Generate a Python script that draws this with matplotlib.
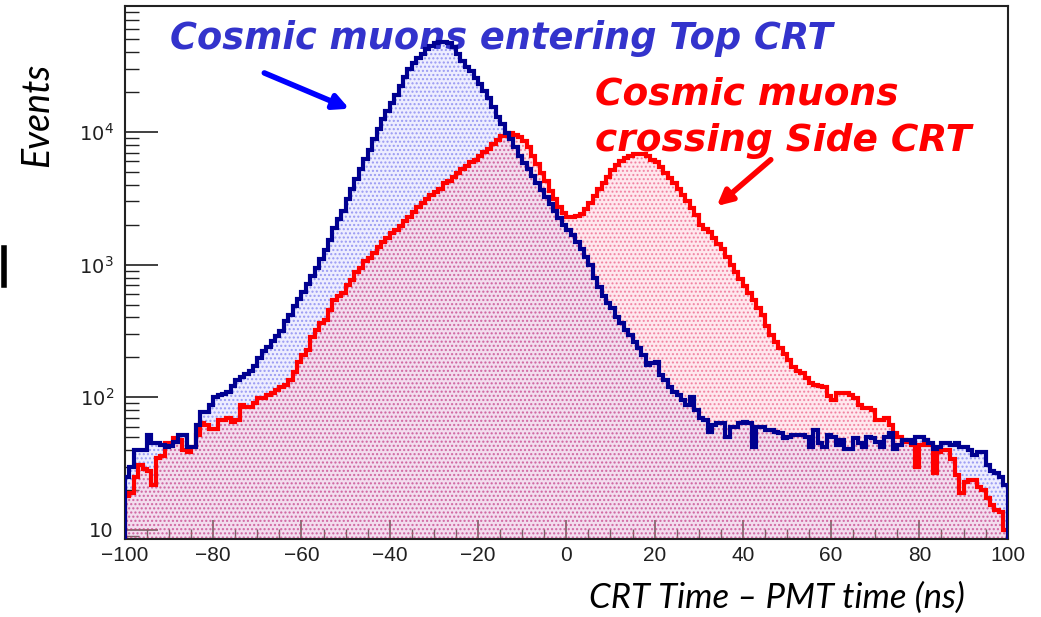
import numpy as np
import matplotlib.pyplot as plt
from matplotlib.ticker import FixedLocator, NullFormatter

plt.rcParams["mathtext.fontset"] = "custom"
plt.rcParams["mathtext.rm"] = "Liberation Sans"
plt.rcParams["hatch.linewidth"] = 1.0

# 1 ns bins from -100 to 100 ns
bin_edges = np.arange(-100, 101, 1)

# events per bin, muons entering the top CRT
top_crt = [
    25, 30, 40, 40, 40, 52, 45, 45, 44, 42,
    43, 46, 52, 52, 42, 42, 62, 78, 78, 88,
    100, 104, 106, 110, 122, 135, 142, 150, 158, 172,
    198, 224, 240, 267, 290, 318, 375, 420, 490, 550,
    620, 715, 827, 950, 1100, 1300, 1546, 1880, 2220, 2560,
    3100, 3740, 4450, 5300, 6210, 7270, 8800, 10460, 12450, 14300,
    16500, 18900, 22100, 25900, 29700, 32900, 36000, 39000, 42500, 44500,
    46500, 47500, 48000, 47000, 44000, 39000, 34500, 31000, 28800, 25600,
    23200, 20500, 17900, 15400, 13000, 11400, 9900, 8800, 7650, 6650,
    5870, 5230, 4660, 4130, 3670, 3220, 2860, 2530, 2240, 1980,
    1830, 1670, 1480, 1310, 1140, 1000, 800, 675, 580, 515,
    470, 402, 362, 323, 296, 262, 236, 208, 175, 181,
    185, 148, 135, 120, 110, 104, 95, 87, 100, 80,
    70, 67, 55, 62, 64, 64, 50, 60, 60, 64,
    65, 64, 42, 60, 60, 57, 57, 55, 54, 49,
    50, 52, 52, 52, 50, 42, 57, 45, 42, 52,
    50, 44, 48, 41, 41, 49, 45, 42, 50, 49,
    46, 42, 50, 54, 41, 44, 48, 48, 45, 50,
    50, 48, 45, 41, 42, 45, 45, 44, 45, 42,
    42, 40, 37, 39, 39, 31, 28, 27, 25, 22,
]

# events per bin, muons crossing the side CRT
side_crt = [
    18, 19, 25, 31, 29, 28, 22, 35, 36, 45,
    45, 49, 48, 40, 39, 42, 52, 64, 62, 58,
    58, 67, 67, 70, 65, 67, 87, 85, 85, 90,
    98, 98, 105, 107, 114, 120, 124, 135, 155, 185,
    208, 228, 285, 323, 362, 385, 458, 540, 580, 610,
    700, 760, 880, 950, 1060, 1120, 1230, 1360, 1470, 1600,
    1720, 1840, 1940, 2150, 2300, 2500, 2700, 2900, 3150, 3330,
    3560, 3750, 4100, 4300, 4550, 4870, 5220, 5500, 5900, 6200,
    6650, 7050, 7400, 8050, 8650, 9250, 9700, 9850, 9500, 9100,
    8500, 7650, 6650, 5700, 4950, 4240, 3620, 3100, 2740, 2460,
    2300, 2300, 2330, 2420, 2650, 2940, 3270, 3690, 4160, 4550,
    5130, 5600, 6000, 6330, 6550, 6780, 6780, 6780, 6550, 6200,
    5900, 5400, 4950, 4470, 4100, 3750, 3370, 3030, 2690, 2350,
    2000, 1870, 1770, 1600, 1440, 1310, 1150, 1000, 880, 780,
    690, 610, 545, 470, 415, 345, 296, 262, 236, 212,
    192, 170, 158, 152, 140, 128, 124, 122, 120, 102,
    95, 108, 108, 108, 104, 98, 87, 83, 83, 80,
    67, 67, 70, 62, 54, 50, 48, 46, 44, 30,
    44, 48, 44, 27, 39, 40, 40, 34, 26, 19,
    23, 24, 24, 21, 20, 17.5, 15.5, 14.2, 13.6, 10,
]

x_ticks = [-100, -80, -60, -40, -20, 0, 20, 40, 60, 80, 100]
y_ticks = [10, 100, 1000, 10000]
y_labels = ["10", r"$\mathregular{10^{2}}$", r"$\mathregular{10^{3}}$", r"$\mathregular{10^{4}}$"]

fig = plt.figure(figsize=(10.41, 6.17), dpi=100)
ax = fig.add_axes([0.120, 0.1264, 0.848, 0.8638])

# dotted fills, blue underneath so the overlap turns purple
ax.stairs(top_crt, bin_edges, baseline=1, fill=True,
          facecolor=(0.93, 0.93, 1.0), edgecolor=(0.60, 0.60, 0.95),
          hatch="....", linewidth=0, zorder=1)
ax.stairs(side_crt, bin_edges, baseline=1, fill=True,
          facecolor=(1.0, 0.78, 0.84, 0.40), edgecolor=(0.90, 0.20, 0.40, 0.50),
          hatch="....", linewidth=0, zorder=2)

ax.stairs(side_crt, bin_edges, baseline=1, color="#ff0000", linewidth=3, zorder=3)
ax.stairs(top_crt, bin_edges, baseline=1, color="#000090", linewidth=3, zorder=4)

ax.set_yscale("log")
ax.set_xlim(-100, 100)
ax.set_ylim(8.55, 89000)

ax.xaxis.set_major_locator(FixedLocator(x_ticks))
ax.xaxis.set_minor_locator(FixedLocator(np.arange(-95, 100, 5)))
ax.set_xticklabels([f"{t}".replace("-", "\u2212") for t in x_ticks],
                   fontfamily="Liberation Sans", fontsize=15)
ax.yaxis.set_major_locator(FixedLocator(y_ticks))
minor_y = [m * 10 ** e for e in range(0, 5) for m in range(2, 10)]
ax.yaxis.set_minor_locator(FixedLocator(minor_y))
ax.yaxis.set_minor_formatter(NullFormatter())
ax.set_yticklabels(y_labels, fontsize=14)

ax.tick_params(axis="both", which="both", direction="in", colors="#202020",
               top=False, right=False)
ax.tick_params(axis="x", which="major", length=14, width=1.2, pad=5)
ax.tick_params(axis="x", which="minor", length=7, width=1.0)
ax.tick_params(axis="y", which="major", length=24, width=1.2, pad=8)
ax.tick_params(axis="y", which="minor", length=10, width=1.0)
for side in ax.spines.values():
    side.set_linewidth(1.5)
    side.set_color("#222222")

fig.text(0.036, 0.814, "Events", rotation=90, ha="center", va="center",
         fontsize=27, style="italic", family=["Lato", "DejaVu Sans"])
fig.text(0.746, 0.031, "CRT Time \u2013 PMT time (ns)", ha="center", va="center",
         fontsize=25, style="italic", family=["Lato", "DejaVu Sans"])

# stray slide bar at the left margin
fig.add_artist(plt.Line2D([0.004, 0.004], [0.538, 0.598], color="black", linewidth=4))

note_font = dict(style="italic", fontweight="bold", family=["DejaVu Sans"])
ax.text(-89.8, 50500, "Cosmic muons entering Top CRT", color="#3333cc",
        fontsize=26.5, ha="left", va="center", **note_font)
ax.text(6.5, 12800, "Cosmic muons\ncrossing Side CRT", color="#ff0000",
        fontsize=27, ha="left", va="center", linespacing=1.35, **note_font)

ax.annotate("", xy=(-48.6, 14700), xytext=(-69, 28400),
            arrowprops=dict(arrowstyle="-|>,head_length=0.9,head_width=0.45",
                            color="#0000ff", lw=4))
ax.annotate("", xy=(33.6, 2680), xytext=(46.8, 6380),
            arrowprops=dict(arrowstyle="-|>,head_length=0.9,head_width=0.45",
                            color="#ff0000", lw=4))

fig.savefig("out.png", dpi=100)
